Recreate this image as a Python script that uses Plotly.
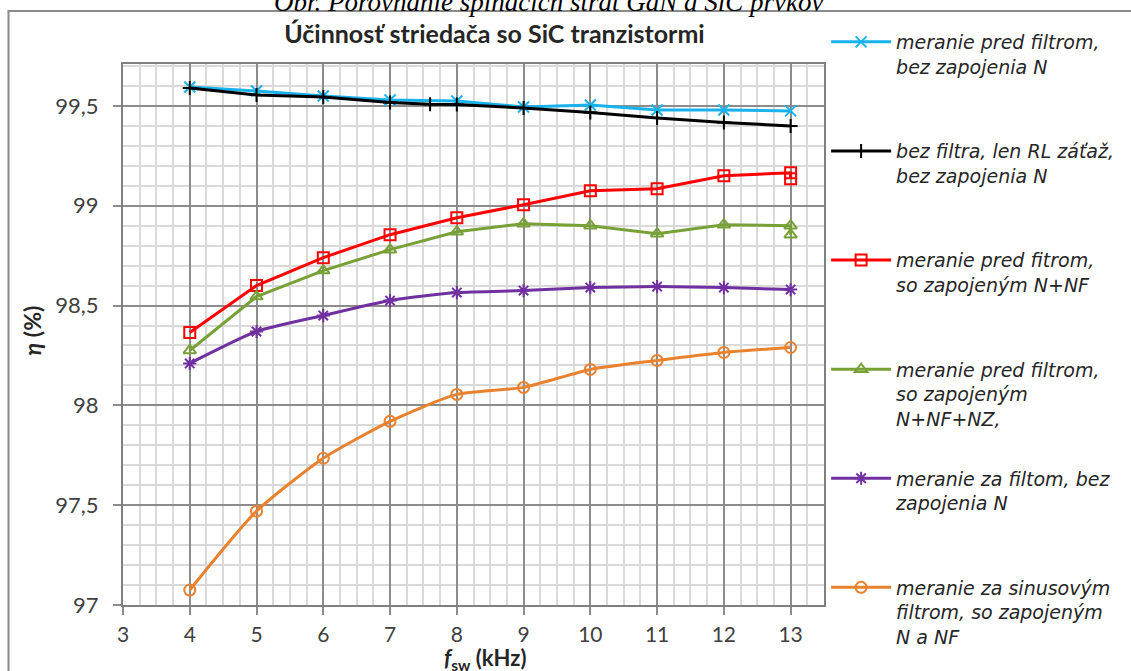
import plotly.graph_objects as go

# ---- data ----
x_int = [4, 5, 6, 7, 8, 9, 10, 11, 12, 13]
blue_y = [99.595, 99.575, 99.55, 99.53, 99.525, 99.495, 99.505, 99.48, 99.48, 99.475]

black_x = [4, 5, 6, 7, 7.6, 8, 9, 10, 11, 12, 13]
black_y = [99.59, 99.555, 99.545, 99.517, 99.508, 99.507, 99.49, 99.467, 99.44, 99.417, 99.40]

dup_x = [4, 5, 6, 7, 8, 9, 10, 11, 12, 13, 13]
red_y = [98.365, 98.60, 98.74, 98.855, 98.94, 99.005, 99.075, 99.085, 99.15, 99.165, 99.135]
green_y = [98.275, 98.545, 98.675, 98.78, 98.87, 98.91, 98.90, 98.86, 98.905, 98.90, 98.855]

purple_y = [98.21, 98.37, 98.45, 98.525, 98.565, 98.575, 98.59, 98.595, 98.59, 98.58]
orange_y = [97.075, 97.47, 97.735, 97.92, 98.055, 98.09, 98.18, 98.225, 98.265, 98.29]

names = [
    "meranie pred filtrom,<br>bez zapojenia N<br> ",
    "bez filtra, len RL záťaž,<br>bez zapojenia N<br> ",
    "meranie pred fitrom,<br>so zapojeným N+NF<br> ",
    "meranie pred filtrom,<br>so zapojeným<br>N+NF+NZ,",
    "meranie za filtom, bez<br>zapojenia N<br> ",
    "meranie za sinusovým<br>filtrom, so zapojeným<br>N a NF",
]

title_text = "Účinnosť striedača so SiC tranzistormi"
caption_text = "Obr. Porovnanie spínacích strát GaN a SiC prvkov"

fig = go.Figure()

series = [
    (x_int, blue_y, names[0], "#1AB2EC", "x-thin", 11, "linear"),
    (black_x, black_y, names[1], "#000000", "cross-thin", 10, "linear"),
    (dup_x, red_y, names[2], "#FF0000", "square-open", 11, "linear"),
    (dup_x, green_y, names[3], "#77A136", "triangle-up-open", 11, "linear"),
    (x_int, purple_y, names[4], "#7030A0", "asterisk-open", 11, "spline"),
    (x_int, orange_y, names[5], "#E8822E", "circle-open", 11, "spline"),
]
for i, (xs, ys, nm, col, sym, sz, shape) in enumerate(series):
    fig.add_trace(go.Scatter(
        x=xs, y=ys, name=nm, mode="lines+markers",
        line=dict(color=col, width=3, shape=shape, smoothing=0.6),
        marker=dict(symbol=sym, size=sz, color=col, line=dict(color=col, width=2)),
        legendgroup=f"g{i}",
    ))

fig.update_layout(
    width=1131, height=671,
    margin=dict(l=123, r=304, t=64, b=66),
    paper_bgcolor="white", plot_bgcolor="white",
    separators=", ",
    showlegend=True,
    legend=dict(
        x=1.003, xanchor="left", y=1 + (64 - 23) / 541, yanchor="top",
        font=dict(family="DejaVu Sans", size=19, color="#262626", style="italic"),
        valign="top", tracegroupgap=32, itemwidth=60,
        bgcolor="rgba(0,0,0,0)", maxheight=668,
    ),
    title=dict(
        text="<b>" + title_text + "</b>",
        x=(496 - 123) / 704, xref="paper", xanchor="center",
        y=1 - 34 / 671, yref="container", yanchor="middle",
        font=dict(family="Lato", size=25, color="#262626"),
    ),
    font=dict(family="Lato", color="#404040"),
)

fig.update_xaxes(
    range=[3, 13.5], tick0=3, dtick=1,
    showgrid=True, gridcolor="#8c8c8c", gridwidth=1.5,
    minor=dict(dtick=0.25, showgrid=True, gridcolor="#d9d9d9", gridwidth=1.5),
    showline=True, linecolor="#7f7f7f", linewidth=2, mirror=True,
    ticks="outside", ticklen=8, tickcolor="#8c8c8c", tickwidth=1.5,
    ticklabelstandoff=2,
    tickfont=dict(family="Lato", size=21, color="#404040"),
    zeroline=False,
)
fig.update_yaxes(
    range=[97, 99.71], tick0=97, dtick=0.5,
    showgrid=True, gridcolor="#8c8c8c", gridwidth=1.5,
    minor=dict(dtick=0.1, showgrid=True, gridcolor="#d9d9d9", gridwidth=1.5),
    showline=True, linecolor="#7f7f7f", linewidth=2, mirror=True,
    ticks="outside", ticklen=8, tickcolor="#8c8c8c", tickwidth=1.5,
    ticklabelstandoff=10,
    tickfont=dict(family="Lato", size=22, color="#404040"),
    zeroline=False,
)

# axis titles
fig.add_annotation(
    text="<b><i>η</i> (%)</b>", xref="paper", yref="paper",
    x=(32 - 123) / 704, y=(605 - 330) / 541, textangle=-90,
    showarrow=False, font=dict(family="Lato", size=23, color="#262626"),
    xanchor="center", yanchor="middle",
)
fig.add_annotation(
    text="<b><i>f</i><sub>sw</sub> (kHz)</b>", xref="paper", yref="paper",
    x=(487 - 123) / 704, y=-(659 - 605) / 541,
    showarrow=False, font=dict(family="Lato", size=22, color="#262626"),
    xanchor="center", yanchor="middle",
)
# clipped caption at the top
fig.add_annotation(
    text="<i>" + caption_text + "</i>", xref="paper", yref="paper",
    x=(550 - 123) / 704, y=1 + (64 - 2) / 541,
    showarrow=False, font=dict(family="Liberation Serif", size=27, color="#000000"),
    xanchor="center", yanchor="middle",
)
# outer chart border
fig.add_shape(
    type="rect", xref="paper", yref="paper",
    x0=(8 - 123) / 704, x1=1.6, y0=-0.3, y1=1 + (64 - 11) / 541,
    line=dict(color="#8a8a8a", width=2), fillcolor="rgba(0,0,0,0)", layer="below",
)

fig.write_html("out.html", config={"displayModeBar": False},
               post_script="document.body.style.margin='0';")
